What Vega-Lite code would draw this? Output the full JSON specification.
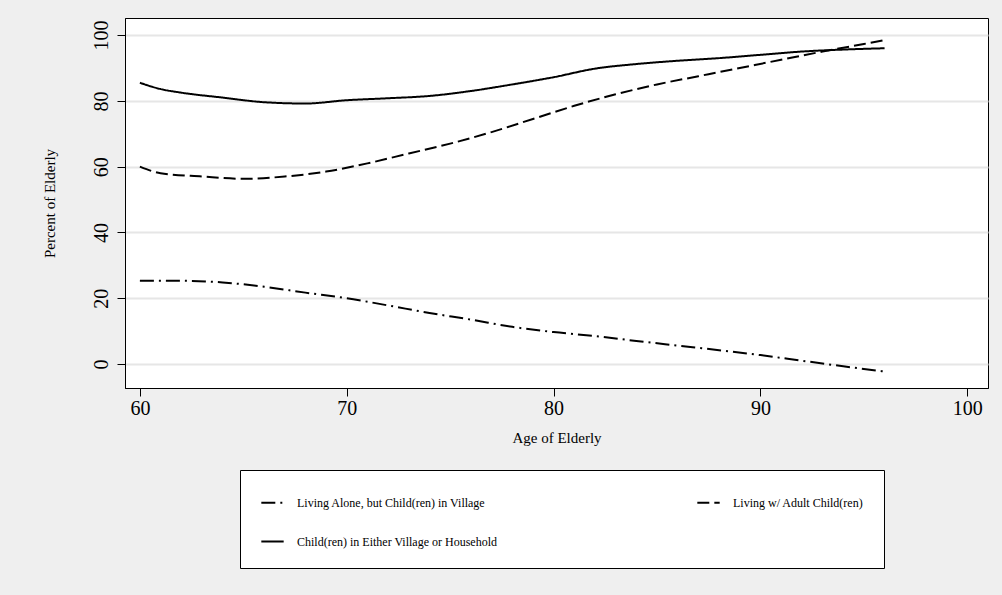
{
  "$schema": "https://vega.github.io/schema/vega-lite/v6.json",
  "autosize": {"type": "none"},
  "width": 863,
  "height": 370,
  "padding": {"left": 125, "top": 18, "right": 14, "bottom": 207},
  "background": "#efefef",
  "data": {"values": [
    {"age": 60, "pct": 85.5, "s": "Child(ren) in Either Village or Household"},
    {"age": 61, "pct": 83.6, "s": "Child(ren) in Either Village or Household"},
    {"age": 62, "pct": 82.5, "s": "Child(ren) in Either Village or Household"},
    {"age": 64, "pct": 81, "s": "Child(ren) in Either Village or Household"},
    {"age": 66, "pct": 79.6, "s": "Child(ren) in Either Village or Household"},
    {"age": 68, "pct": 79.2, "s": "Child(ren) in Either Village or Household"},
    {"age": 70, "pct": 80.2, "s": "Child(ren) in Either Village or Household"},
    {"age": 72, "pct": 80.8, "s": "Child(ren) in Either Village or Household"},
    {"age": 74, "pct": 81.5, "s": "Child(ren) in Either Village or Household"},
    {"age": 76, "pct": 83, "s": "Child(ren) in Either Village or Household"},
    {"age": 78, "pct": 85, "s": "Child(ren) in Either Village or Household"},
    {"age": 80, "pct": 87.2, "s": "Child(ren) in Either Village or Household"},
    {"age": 82, "pct": 89.8, "s": "Child(ren) in Either Village or Household"},
    {"age": 84, "pct": 91.2, "s": "Child(ren) in Either Village or Household"},
    {"age": 86, "pct": 92.2, "s": "Child(ren) in Either Village or Household"},
    {"age": 88, "pct": 93, "s": "Child(ren) in Either Village or Household"},
    {"age": 90, "pct": 94, "s": "Child(ren) in Either Village or Household"},
    {"age": 92, "pct": 95, "s": "Child(ren) in Either Village or Household"},
    {"age": 94, "pct": 95.6, "s": "Child(ren) in Either Village or Household"},
    {"age": 96, "pct": 96, "s": "Child(ren) in Either Village or Household"},
    {"age": 60, "pct": 60, "s": "Living w/ Adult Child(ren)"},
    {"age": 61, "pct": 58, "s": "Living w/ Adult Child(ren)"},
    {"age": 63, "pct": 57, "s": "Living w/ Adult Child(ren)"},
    {"age": 65, "pct": 56.3, "s": "Living w/ Adult Child(ren)"},
    {"age": 67, "pct": 57, "s": "Living w/ Adult Child(ren)"},
    {"age": 69, "pct": 58.5, "s": "Living w/ Adult Child(ren)"},
    {"age": 71, "pct": 61, "s": "Living w/ Adult Child(ren)"},
    {"age": 73, "pct": 64, "s": "Living w/ Adult Child(ren)"},
    {"age": 75, "pct": 67, "s": "Living w/ Adult Child(ren)"},
    {"age": 77, "pct": 70.5, "s": "Living w/ Adult Child(ren)"},
    {"age": 79, "pct": 74.5, "s": "Living w/ Adult Child(ren)"},
    {"age": 81, "pct": 78.5, "s": "Living w/ Adult Child(ren)"},
    {"age": 83, "pct": 82, "s": "Living w/ Adult Child(ren)"},
    {"age": 85, "pct": 85, "s": "Living w/ Adult Child(ren)"},
    {"age": 87, "pct": 87.5, "s": "Living w/ Adult Child(ren)"},
    {"age": 89, "pct": 90, "s": "Living w/ Adult Child(ren)"},
    {"age": 91, "pct": 92.5, "s": "Living w/ Adult Child(ren)"},
    {"age": 93, "pct": 95, "s": "Living w/ Adult Child(ren)"},
    {"age": 95, "pct": 97.3, "s": "Living w/ Adult Child(ren)"},
    {"age": 96, "pct": 98.5, "s": "Living w/ Adult Child(ren)"},
    {"age": 60, "pct": 25.3, "s": "Living Alone, but Child(ren) in Village"},
    {"age": 62, "pct": 25.3, "s": "Living Alone, but Child(ren) in Village"},
    {"age": 64, "pct": 24.8, "s": "Living Alone, but Child(ren) in Village"},
    {"age": 66, "pct": 23.5, "s": "Living Alone, but Child(ren) in Village"},
    {"age": 68, "pct": 21.7, "s": "Living Alone, but Child(ren) in Village"},
    {"age": 70, "pct": 20, "s": "Living Alone, but Child(ren) in Village"},
    {"age": 72, "pct": 17.8, "s": "Living Alone, but Child(ren) in Village"},
    {"age": 74, "pct": 15.5, "s": "Living Alone, but Child(ren) in Village"},
    {"age": 76, "pct": 13.5, "s": "Living Alone, but Child(ren) in Village"},
    {"age": 78, "pct": 11.3, "s": "Living Alone, but Child(ren) in Village"},
    {"age": 80, "pct": 9.7, "s": "Living Alone, but Child(ren) in Village"},
    {"age": 82, "pct": 8.5, "s": "Living Alone, but Child(ren) in Village"},
    {"age": 84, "pct": 7, "s": "Living Alone, but Child(ren) in Village"},
    {"age": 86, "pct": 5.6, "s": "Living Alone, but Child(ren) in Village"},
    {"age": 88, "pct": 4.2, "s": "Living Alone, but Child(ren) in Village"},
    {"age": 90, "pct": 2.7, "s": "Living Alone, but Child(ren) in Village"},
    {"age": 92, "pct": 1, "s": "Living Alone, but Child(ren) in Village"},
    {"age": 94, "pct": -0.7, "s": "Living Alone, but Child(ren) in Village"},
    {"age": 96, "pct": -2.3, "s": "Living Alone, but Child(ren) in Village"}
  ]},
  "mark": {"type": "line", "color": "black", "strokeWidth": 2, "interpolate": "monotone"},
  "encoding": {
    "x": {
      "field": "age", "type": "quantitative",
      "scale": {"domain": [59.28, 101], "nice": false, "zero": false},
      "axis": {"values": [60, 70, 80, 90, 100], "title": "Age of Elderly", "grid": false,
        "labelFontSize": 20, "titleFontSize": 15, "titleFontWeight": "normal", "titlePadding": 12}
    },
    "y": {
      "field": "pct", "type": "quantitative",
      "scale": {"domain": [-7.3, 105.2], "nice": false, "zero": false},
      "axis": {"values": [0, 20, 40, 60, 80, 100], "title": "Percent of Elderly",
        "labelAngle": -90, "labelAlign": "center", "labelBaseline": "bottom", "labelPadding": 6,
        "labelFontSize": 20, "titleFontSize": 15, "titleFontWeight": "normal", "titlePadding": 34}
    },
    "strokeDash": {
      "field": "s", "type": "nominal",
      "scale": {
        "domain": ["Living Alone, but Child(ren) in Village", "Child(ren) in Either Village or Household", "Living w/ Adult Child(ren)"],
        "range": [[14, 5, 2, 5], [1, 0], [12, 5]]
      },
      "legend": {
        "title": null, "orient": "none", "legendX": 115, "legendY": 452,
        "columns": 2, "columnPadding": 195, "rowPadding": 20,
        "fillColor": "white", "strokeColor": "black", "padding": 20,
        "symbolType": "stroke", "symbolSize": 500, "symbolStrokeWidth": 2, "symbolStrokeColor": "black",
        "labelFontSize": 12, "labelLimit": 300, "labelOffset": 12
      }
    }
  },
  "config": {
    "font": "Liberation Serif",
    "view": {"fill": "white", "stroke": "black"},
    "axis": {"domainColor": "black", "tickColor": "black", "labelColor": "black", "titleColor": "black", "tickSize": 8},
    "axisY": {"grid": true, "gridColor": "#e6e6e6", "gridWidth": 2}
  }
}
